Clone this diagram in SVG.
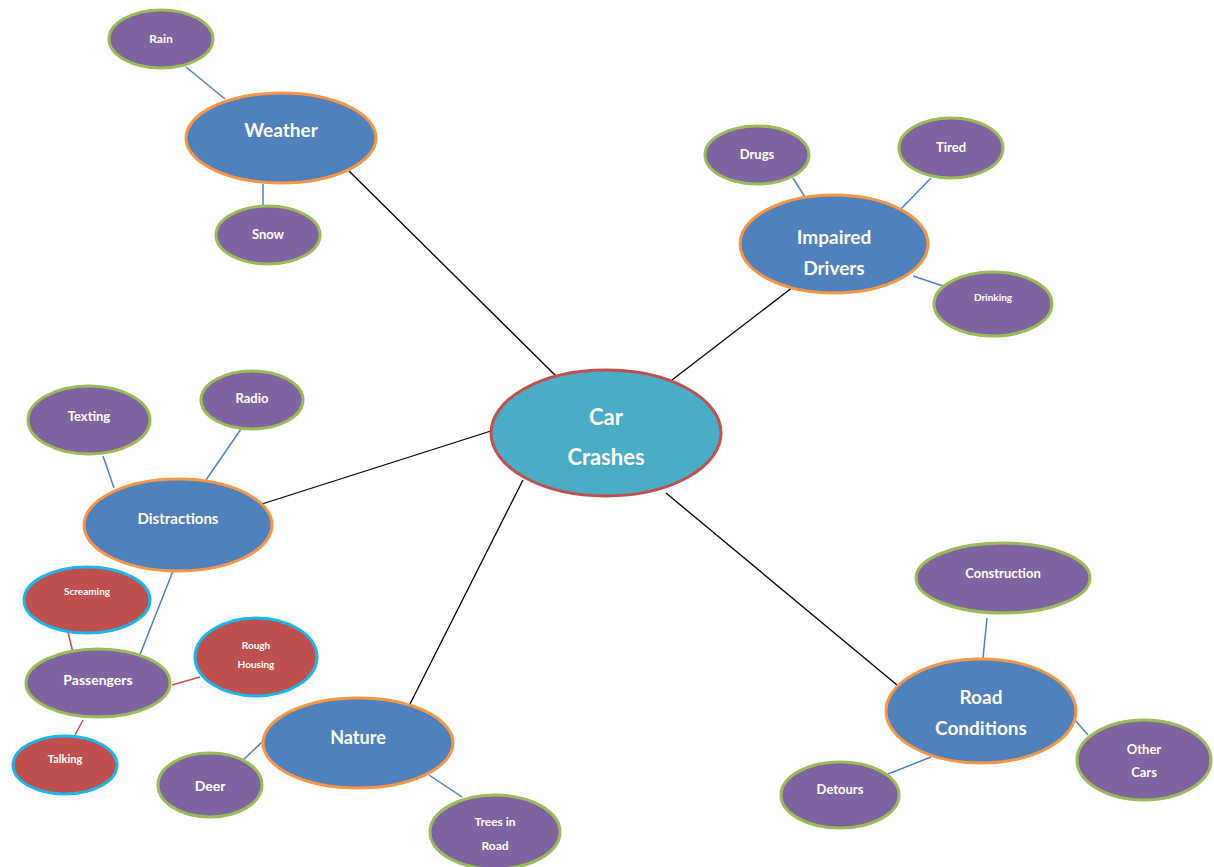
<svg xmlns="http://www.w3.org/2000/svg" width="1214" height="867" viewBox="0 0 1214 867">
<style>
.main{fill:#4F81BD;stroke:#F79646;stroke-width:3}
.center{fill:#4BACC6;stroke:#C0504D;stroke-width:3}
.leaf{fill:#8064A2;stroke:#9BBB59;stroke-width:3}
.red{fill:#C0504D;stroke:#1CB5EC;stroke-width:3}
text{font-family:Lato,"Open Sans","Liberation Sans",sans-serif;fill:#fff;text-anchor:middle;dominant-baseline:central;font-weight:bold}
.k{stroke:#000;stroke-width:1.3}
.b{stroke:#4F81BD;stroke-width:1.5}
.r{stroke:#C0504D;stroke-width:1.5}
</style>
<rect width="1214" height="867" fill="#fff"/>
<g id="connectors" fill="none">
<line class="k" x1="349" y1="171" x2="560" y2="380"/>
<line class="k" x1="793" y1="287" x2="672" y2="380"/>
<line class="k" x1="262" y1="504" x2="494" y2="430"/>
<line class="k" x1="408" y1="708" x2="523" y2="480"/>
<line class="k" x1="897" y1="685" x2="666" y2="493"/>
<line class="b" x1="186" y1="67" x2="225" y2="99"/>
<line class="b" x1="263" y1="184" x2="263" y2="208"/>
<line class="b" x1="793" y1="178" x2="808" y2="202"/>
<line class="b" x1="931" y1="178" x2="898" y2="212"/>
<line class="b" x1="913" y1="276" x2="946" y2="287"/>
<line class="b" x1="103" y1="456" x2="114" y2="488"/>
<line class="b" x1="241" y1="429" x2="206" y2="480"/>
<line class="b" x1="173" y1="571" x2="139" y2="657"/>
<line class="b" x1="262" y1="742" x2="242" y2="761"/>
<line class="b" x1="429" y1="775" x2="462" y2="797"/>
<line class="b" x1="987" y1="618" x2="983" y2="658"/>
<line class="b" x1="1075" y1="720" x2="1088" y2="735"/>
<line class="b" x1="931" y1="757" x2="888" y2="774"/>
<line class="r" x1="68" y1="632" x2="74" y2="657"/>
<line class="r" x1="172" y1="685" x2="200" y2="677"/>
<line class="r" x1="83" y1="720" x2="75" y2="735"/>
</g>
<g id="car-crashes"><ellipse class="center" cx="606" cy="433" rx="115" ry="63"/><text x="606" y="416" font-size="22">Car</text><text x="606" y="456" font-size="22">Crashes</text></g>
<g id="weather"><ellipse class="main" cx="281" cy="138" rx="95" ry="45"/><text x="281" y="129" font-size="19">Weather</text></g>
<g id="rain"><ellipse class="leaf" cx="161" cy="39" rx="52" ry="29"/><text x="161" y="38" font-size="12">Rain</text></g>
<g id="snow"><ellipse class="leaf" cx="268" cy="235" rx="52" ry="29"/><text x="268" y="234" font-size="13">Snow</text></g>
<g id="impaired-drivers"><ellipse class="main" cx="834" cy="244" rx="94" ry="49"/><text x="834" y="236" font-size="19">Impaired</text><text x="834" y="267" font-size="19">Drivers</text></g>
<g id="drugs"><ellipse class="leaf" cx="757" cy="155" rx="52" ry="29"/><text x="757" y="154" font-size="13">Drugs</text></g>
<g id="tired"><ellipse class="leaf" cx="951" cy="148" rx="52" ry="30"/><text x="951" y="147" font-size="13">Tired</text></g>
<g id="drinking"><ellipse class="leaf" cx="993" cy="304" rx="59" ry="32"/><text x="993" y="297" font-size="10">Drinking</text></g>
<g id="distractions"><ellipse class="main" cx="178" cy="525" rx="94" ry="46"/><text x="178" y="518" font-size="15">Distractions</text></g>
<g id="texting"><ellipse class="leaf" cx="89" cy="420" rx="61" ry="34"/><text x="89" y="416" font-size="13">Texting</text></g>
<g id="radio"><ellipse class="leaf" cx="252" cy="400" rx="51" ry="29"/><text x="252" y="398" font-size="13">Radio</text></g>
<g id="screaming"><ellipse class="red" cx="87" cy="600" rx="63" ry="33"/><text x="87" y="591" font-size="10">Screaming</text></g>
<g id="passengers"><ellipse class="leaf" cx="98" cy="683" rx="72" ry="34"/><text x="98" y="679" font-size="14">Passengers</text></g>
<g id="rough-housing"><ellipse class="red" cx="256" cy="657" rx="61" ry="39"/><text x="256" y="645" font-size="10">Rough</text><text x="256" y="664" font-size="10">Housing</text></g>
<g id="talking"><ellipse class="red" cx="65" cy="765" rx="52" ry="29"/><text x="65" y="758" font-size="11">Talking</text></g>
<g id="nature"><ellipse class="main" cx="358" cy="743" rx="95" ry="45"/><text x="358" y="737" font-size="18">Nature</text></g>
<g id="deer"><ellipse class="leaf" cx="210" cy="785" rx="52" ry="32"/><text x="210" y="785" font-size="14">Deer</text></g>
<g id="trees-in-road"><ellipse class="leaf" cx="495" cy="832" rx="65" ry="37"/><text x="495" y="821" font-size="12">Trees in</text><text x="495" y="845" font-size="12">Road</text></g>
<g id="road-conditions"><ellipse class="main" cx="981" cy="711" rx="95" ry="52"/><text x="981" y="696" font-size="19">Road</text><text x="981" y="727" font-size="19">Conditions</text></g>
<g id="construction"><ellipse class="leaf" cx="1003" cy="578" rx="87" ry="35"/><text x="1003" y="573" font-size="13">Construction</text></g>
<g id="other-cars"><ellipse class="leaf" cx="1144" cy="760" rx="67" ry="40"/><text x="1144" y="749" font-size="13">Other</text><text x="1144" y="772" font-size="13">Cars</text></g>
<g id="detours"><ellipse class="leaf" cx="840" cy="795" rx="59" ry="33"/><text x="840" y="789" font-size="13">Detours</text></g>
</svg>
